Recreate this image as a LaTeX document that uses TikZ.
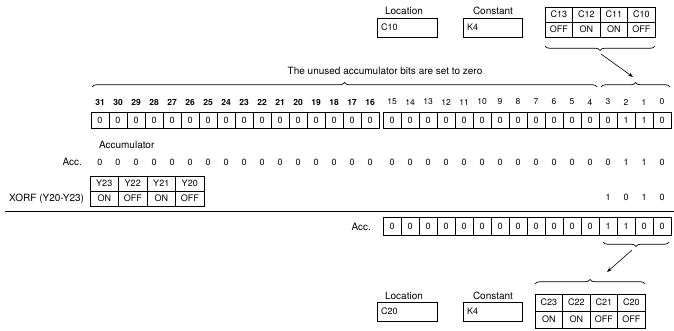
\documentclass[tikz,border=0pt]{standalone}
\usepackage{fontspec}
\setmainfont{TeX Gyre Heros}
\usetikzlibrary{decorations.pathreplacing,arrows.meta}
\begin{document}
\begin{tikzpicture}[x=1pt,y=-1pt,
  every node/.style={inner sep=0pt,outer sep=0pt},
  lbl/.style={font=\fontsize{10}{12}\selectfont},
  val/.style={font=\fontsize{9}{10}\selectfont},
  bitnum/.style={font=\fontsize{8.5}{10}\selectfont},
  bitnumb/.style={font=\fontsize{8.5}{10}\selectfont\bfseries},
  cell/.style={draw,line width=0.8pt,minimum width=18pt,minimum height=16pt,anchor=north west,font=\fontsize{9}{10}\selectfont},
  acell/.style={cell,minimum height=18pt},
  ccell/.style={draw,line width=0.8pt,minimum width=27.5pt,minimum height=15pt,anchor=north west,font=\fontsize{9}{10}\selectfont},
  bcell/.style={ccell,minimum height=17pt},
  ycell/.style={draw,line width=0.8pt,minimum width=28.5pt,minimum height=15pt,anchor=north west,font=\fontsize{9}{10}\selectfont},
  valbox/.style={draw,line width=0.8pt,minimum height=19pt,text width=52pt,inner xsep=4pt,align=left,anchor=north west,font=\fontsize{9}{10}\selectfont},
  bracestyle/.style={decorate,decoration={brace,amplitude=4.5pt},line width=0.7pt},
  arr/.style={-{Stealth[length=5pt,width=3.5pt]},line width=0.6pt}]
\useasboundingbox (0,0) rectangle (674,331);

% ---------- top: location / constant ----------
\node[lbl] (loclbl1) at (404,11) {Location};
\node[valbox] (loc1) at (377,18) {C10};
\node[lbl] (conlbl1) at (493,11) {Constant};
\node[valbox,text width=51pt] (con1) at (463,18) {K4};

% ---------- top C table ----------
\foreach \n [count=\i from 0] in {C13,C12,C11,C10}
  \node[ccell] (tc\i) at ({545+27.5*\i},7) {\n};
\foreach \n [count=\i from 0] in {OFF,ON,ON,OFF}
  \node[ccell] (tv\i) at ({545+27.5*\i},22) {\n};

% brace under top table and arrow
\coordinate (br1r) at (655,46);
\coordinate (br1l) at (545,46);
\draw[bracestyle] (br1r) -- (br1l);
\coordinate (a1s) at (601,54);
\coordinate (a1e) at (633,77);
\draw[arr] (a1s) -- (a1e);

% brace over bits 3..0
\coordinate (br2l) at (601,87);
\coordinate (br2r) at (670,87);
\draw[bracestyle] (br2l) -- (br2r);

% long brace over unused bits
\coordinate (br3l) at (92,87);
\coordinate (br3r) at (597,87);
\draw[bracestyle] (br3l) -- (br3r);
\node[lbl] (unused) at (385,71) {The unused accumulator bits are set to zero};

% ---------- bit row ----------
\foreach \k in {31,...,16}{
  \pgfmathsetmacro\xx{91+18*(31-\k)}
  \node[cell] (b\k) at (\xx,112) {0};
  \node[bitnumb] (n\k) at (\xx+9,102) {\k};
}
\foreach \k/\v in {15/0,14/0,13/0,12/0,11/0,10/0,9/0,8/0,7/0,6/0,5/0,4/0,3/0,2/1,1/1,0/0}{
  \pgfmathsetmacro\xx{383+18*(15-\k)}
  \node[cell] (b\k) at (\xx,112) {\v};
  \node[bitnum] (n\k) at (\xx+9,102) {\k};
}
\node[lbl,anchor=west] (acclbl) at (99,145) {Accumulator};

% ---------- Acc. values row ----------
\node[lbl,anchor=east] (acc1) at (82,162) {Acc.};
\foreach \k in {31,...,16}{
  \pgfmathsetmacro\xx{100+18*(31-\k)}
  \node[val] (av\k) at (\xx,162) {0};
}
\foreach \k/\v in {15/0,14/0,13/0,12/0,11/0,10/0,9/0,8/0,7/0,6/0,5/0,4/0,3/0,2/1,1/1,0/0}{
  \pgfmathsetmacro\xx{392+18*(15-\k)}
  \node[val] (av\k) at (\xx,162) {\v};
}

% ---------- Y table ----------
\foreach \n [count=\i from 0] in {Y23,Y22,Y21,Y20}
  \node[ycell] (yc\i) at ({90+28.5*\i},176) {\n};
\foreach \n [count=\i from 0] in {ON,OFF,ON,OFF}
  \node[ycell] (yv\i) at ({90+28.5*\i},191) {\n};
\node[lbl,anchor=east] (xorf) at (84,198.5) {XORF (Y20-Y23)};

% XOR operand 1 0 1 0
\foreach \v [count=\i from 0] in {1,0,1,0}
  \node[val] (xo\i) at ({608+18*\i},197) {\v};

% result line
\coordinate (l0) at (5,211.5);
\coordinate (l1) at (674,211.5);
\draw[line width=1.1pt] (l0) -- (l1);

% ---------- result Acc. row ----------
\node[lbl,anchor=east] (acc2) at (371,226.5) {Acc.};
\foreach \v [count=\i from 0] in {0,0,0,0,0,0,0,0,0,0,0,0,1,1,0,0}
  \node[acell] (r\i) at ({383+18*\i},217.5) {\v};

% brace below result bits 3..0 and arrow
\coordinate (br4r) at (669,242);
\coordinate (br4l) at (603,242);
\draw[bracestyle] (br4r) -- (br4l);
\coordinate (a2s) at (632,250);
\coordinate (a2e) at (607,272);
\draw[arr] (a2s) -- (a2e);

% brace over bottom table
\coordinate (br5l) at (535,284);
\coordinate (br5r) at (645,284);
\draw[bracestyle] (br5l) -- (br5r);

% ---------- bottom C table ----------
\foreach \n [count=\i from 0] in {C23,C22,C21,C20}
  \node[bcell] (bc\i) at ({535+27.5*\i},294) {\n};
\foreach \n [count=\i from 0] in {ON,ON,OFF,OFF}
  \node[bcell] (bv\i) at ({535+27.5*\i},311) {\n};

% ---------- bottom location / constant ----------
\node[lbl] (loclbl2) at (404,296) {Location};
\node[valbox] (loc2) at (377,302) {C20};
\node[lbl] (conlbl2) at (493,296) {Constant};
\node[valbox,text width=51pt] (con2) at (463,302) {K4};
\end{tikzpicture}
\end{document}
